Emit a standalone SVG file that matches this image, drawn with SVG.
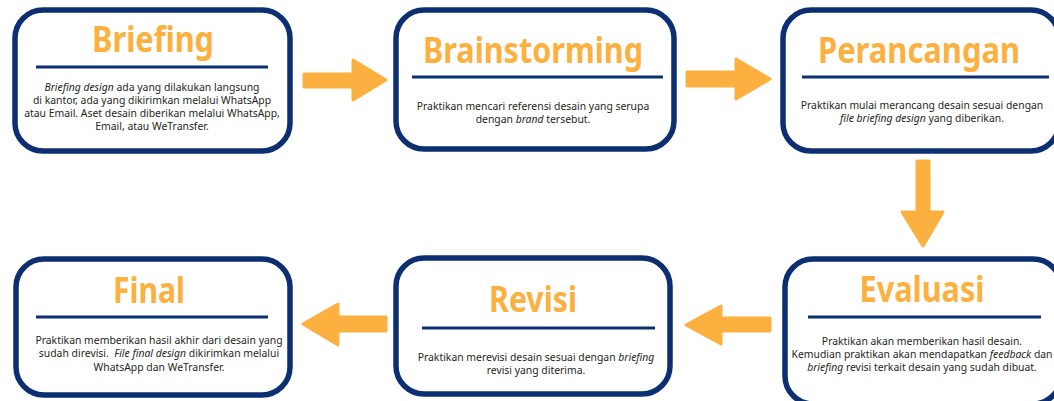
<svg xmlns="http://www.w3.org/2000/svg" width="1054" height="401" viewBox="0 0 1054 401">
<style>
.box{fill:#fff;stroke:#0c2f72;stroke-width:5.5}
.rule{stroke:#0c2f72;stroke-width:3}
.title{font-family:"Noto Sans",sans-serif;font-weight:bold;fill:#fbb040;text-anchor:middle;font-size:36px}
.body{font-family:"Noto Sans",sans-serif;fill:#231f20;text-anchor:middle;font-size:10.4px}
.it{font-style:italic}
.arrow{fill:#fbb040;stroke:#fbb040;stroke-width:3;stroke-linejoin:round}
</style>
<rect width="1054" height="401" fill="#fff"/>
<g id="connectors">
<polygon class="arrow" points="304,74 353,74 353,60 386,80 353,100 353,87 304,87"/>
<polygon class="arrow" points="687,72 736,72 736,59 770,79 736,99 736,86 687,86"/>
<polygon class="arrow" points="917,161 929,161 929,212 943,212 923,246 902,212 917,212"/>
<polygon class="arrow" points="770,318 721,318 721,306 686,325 721,344 721,331 770,331"/>
<polygon class="arrow" points="386,317 338,317 338,304 303,324 338,345 338,331 386,331"/>
</g>
<g id="node-briefing">
<rect class="box" x="15" y="10" width="275" height="141" rx="28"/>
<text class="title" x="153" y="52" textLength="122" lengthAdjust="spacingAndGlyphs">Briefing</text>
<line class="rule" x1="36" y1="67" x2="268" y2="67"/>
<text class="body" x="152" y="91"><tspan class="it">Briefing design</tspan> ada yang dilakukan langsung</text>
<text class="body" x="152" y="104">di kantor, ada yang dikirimkan melalui WhatsApp</text>
<text class="body" x="152" y="117">atau Email. Aset desain diberikan melalui WhatsApp,</text>
<text class="body" x="152" y="130">Email, atau WeTransfer.</text>
</g>
<g id="node-brainstorming">
<rect class="box" x="396" y="10" width="278" height="139" rx="28"/>
<text class="title" x="533" y="63" textLength="220" lengthAdjust="spacingAndGlyphs">Brainstorming</text>
<line class="rule" x1="412" y1="77" x2="663" y2="77"/>
<text class="body" x="533" y="110">Praktikan mencari referensi desain yang serupa</text>
<text class="body" x="533" y="123">dengan <tspan class="it">brand</tspan> tersebut.</text>
</g>
<g id="node-perancangan">
<rect class="box" x="783" y="10" width="276" height="141" rx="28"/>
<text class="title" x="919" y="63" textLength="202" lengthAdjust="spacingAndGlyphs">Perancangan</text>
<line class="rule" x1="802" y1="77" x2="1049" y2="77"/>
<text class="body" x="922" y="109">Praktikan mulai merancang desain sesuai dengan</text>
<text class="body" x="922" y="122"><tspan class="it">file briefing design</tspan> yang diberikan.</text>
</g>
<g id="node-evaluasi">
<rect class="box" x="785" y="259" width="276" height="145" rx="28"/>
<text class="title" x="922" y="302" textLength="125" lengthAdjust="spacingAndGlyphs">Evaluasi</text>
<line class="rule" x1="808" y1="317" x2="1041" y2="317"/>
<text class="body" x="922" y="345">Praktikan akan memberikan hasil desain.</text>
<text class="body" x="922" y="358">Kemudian praktikan akan mendapatkan <tspan class="it">feedback</tspan> dan</text>
<text class="body" x="922" y="371"><tspan class="it">briefing</tspan> revisi terkait desain yang sudah dibuat.</text>
</g>
<g id="node-revisi">
<rect class="box" x="396" y="258" width="274" height="136" rx="28"/>
<text class="title" x="533" y="312" textLength="88" lengthAdjust="spacingAndGlyphs">Revisi</text>
<line class="rule" x1="422" y1="328" x2="655" y2="328"/>
<text class="body" x="536" y="361">Praktikan merevisi desain sesuai dengan <tspan class="it">briefing</tspan></text>
<text class="body" x="536" y="374">revisi yang diterima.</text>
</g>
<g id="node-final">
<rect class="box" x="16" y="259" width="274" height="136" rx="28"/>
<text class="title" x="149" y="303" textLength="72" lengthAdjust="spacingAndGlyphs">Final</text>
<line class="rule" x1="36" y1="317" x2="268" y2="317"/>
<text class="body" x="159" y="344">Praktikan memberikan hasil akhir dari desain yang</text>
<text class="body" x="159" y="357">sudah direvisi.&#160; <tspan class="it">File final design</tspan> dikirimkan melalui</text>
<text class="body" x="159" y="371">WhatsApp dan WeTransfer.</text>
</g>
</svg>
